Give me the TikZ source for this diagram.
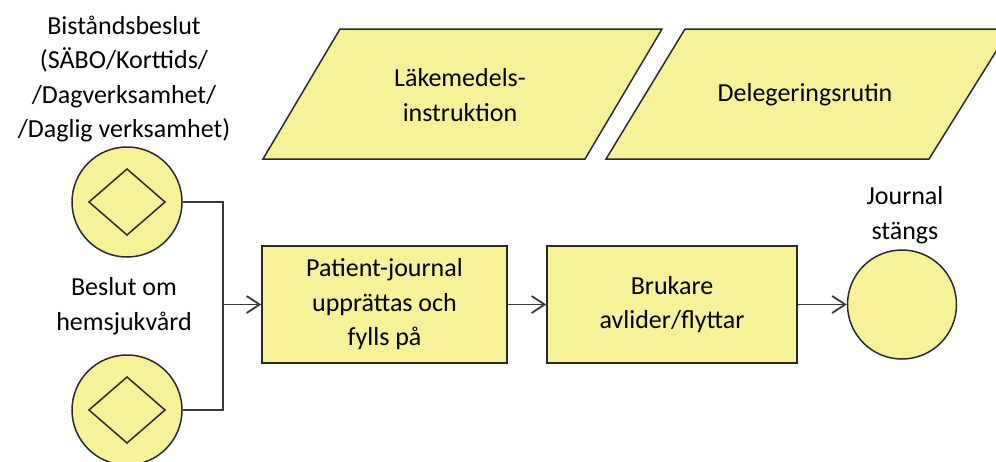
\documentclass[tikz,border=0pt]{standalone}
\usepackage{fontspec}
\setmainfont{Carlito}
\usetikzlibrary{arrows.meta}
\definecolor{paleyellow}{HTML}{F7F19A}
\definecolor{edgegray}{HTML}{2A2A2A}
\definecolor{linegray}{HTML}{3A3A3A}
\newcommand\lblfont{\fontsize{26}{34.5}\selectfont}
\tikzset{
  every node/.style={font=\lblfont, text=black},
  shapebox/.style={draw=edgegray, fill=paleyellow, line width=1.5pt},
  taskbox/.style={shapebox, rectangle, inner sep=0pt, align=center},
  eventcirc/.style={shapebox, circle, inner sep=0pt, minimum size=110pt},
  docshape/.style={shapebox, line join=miter},
  conn/.style={draw=linegray, line width=1.8pt},
  flow/.style={conn, -{Straight Barb[length=13pt,width=17pt,line width=1.8pt]}},
  caption/.style={align=center, inner sep=0pt}
}
\begin{document}
\begin{tikzpicture}[x=1pt,y=-1pt]
  \useasboundingbox (0,0) rectangle (996,461);

  % documents (parallelograms)
  \path[docshape] (263,159) -- (340,29) -- (662,29) -- (585,159) -- cycle;
  \node[caption] (lak) at (460,95) {Läkemedels-\\instruktion};
  \path[docshape] (606,159) -- (685,29) -- (1010,29) -- (929,159) -- cycle;
  \node[caption] (del) at (805,95) {Delegeringsrutin};

  % start events
  \node[eventcirc] (ev1) at (127,202) {};
  \draw[edgegray, line width=1.5pt] (ev1.center) +(-38,0) -- +(0,-33) -- +(38,0) -- +(0,33) -- cycle;
  \node[eventcirc] (ev2) at (127,410) {};
  \draw[edgegray, line width=1.5pt] (ev2.center) +(-38,0) -- +(0,-33) -- +(38,0) -- +(0,33) -- cycle;
  \node[caption] (ev1lbl) at (124,79) {Biståndsbeslut\\(SÄBO/Korttids/\\/Dagverksamhet/\\/Daglig verksamhet)};
  \node[caption] (ev2lbl) at (124,306) {Beslut om\\hemsjukvård};

  % tasks
  \node[taskbox, minimum width=245pt, minimum height=117pt] (journal) at (384.5,304.5)
    {Patient-journal\\upprättas och\\fylls på};
  \node[taskbox, minimum width=250pt, minimum height=117pt] (brukare) at (672,304.5)
    {Brukare\\avlider/flyttar};

  % end event
  \node[eventcirc, minimum size=109pt] (endev) at (902,304.5) {};
  \node[caption] (endlbl) at (905,215) {Journal\\stängs};

  % connectors
  \coordinate (merge) at (223,304.5);
  \draw[conn] (ev1.east) -| (merge);
  \draw[conn] (ev2.east) -| (merge);
  \draw[flow] (merge) -- (journal.west);
  \draw[flow] (journal.east) -- (brukare.west);
  \draw[flow] (brukare.east) -- (endev.west);
\end{tikzpicture}
\end{document}
